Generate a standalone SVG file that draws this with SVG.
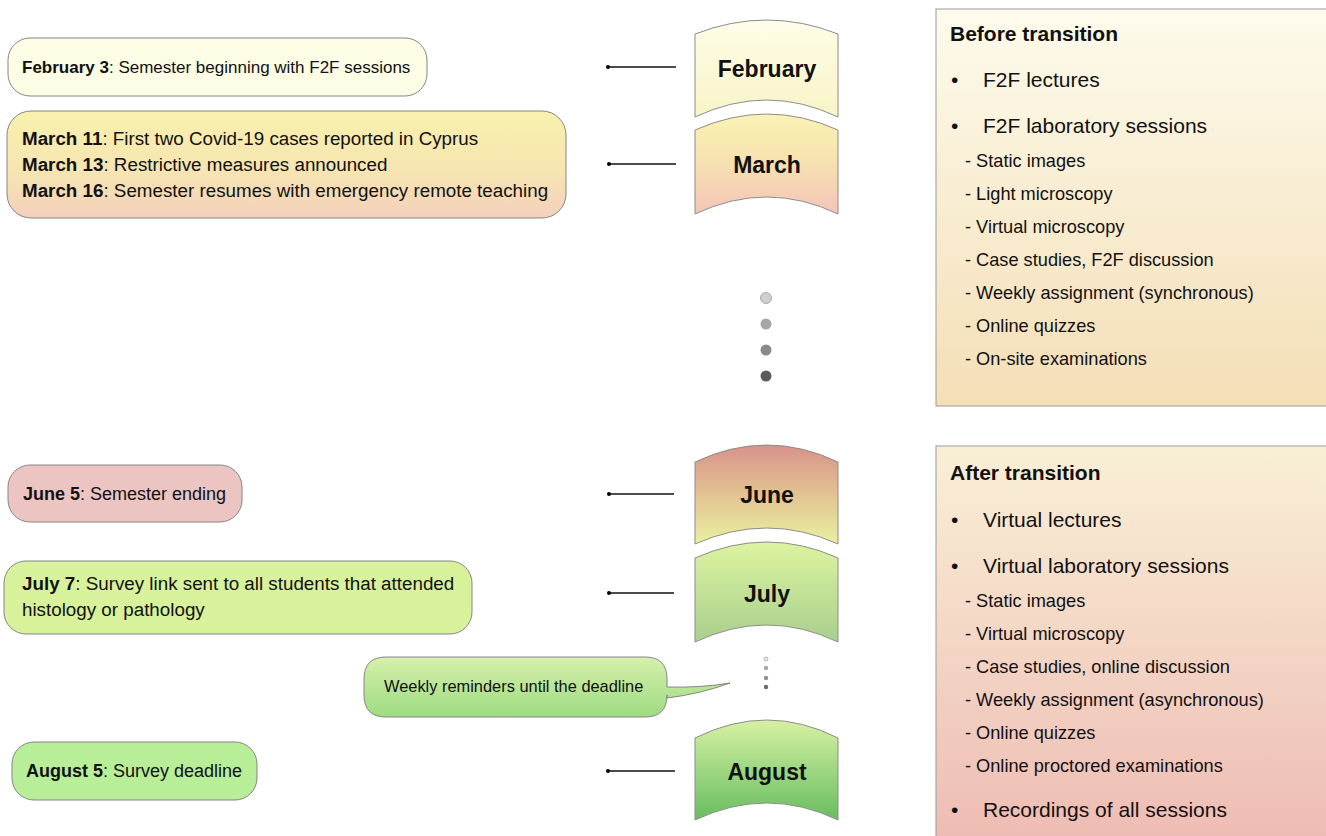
<svg xmlns="http://www.w3.org/2000/svg" width="1326" height="836" viewBox="0 0 1326 836">
<defs>
<linearGradient id="gFeb" x1="0" y1="0" x2="0" y2="1"><stop offset="0" stop-color="#fefde8"/><stop offset="1" stop-color="#f8f4c6"/></linearGradient>
<linearGradient id="gMar" x1="0" y1="0" x2="0" y2="1"><stop offset="0" stop-color="#faf2b4"/><stop offset="0.45" stop-color="#f7e3b0"/><stop offset="1" stop-color="#f3c4b8"/></linearGradient>
<linearGradient id="gJun" x1="0" y1="0" x2="0" y2="1"><stop offset="0" stop-color="#d8928a"/><stop offset="0.5" stop-color="#e2c392"/><stop offset="1" stop-color="#e9f0a0"/></linearGradient>
<linearGradient id="gJul" x1="0" y1="0" x2="0" y2="1"><stop offset="0" stop-color="#ddf4a0"/><stop offset="1" stop-color="#a8cf8e"/></linearGradient>
<linearGradient id="gAug" x1="0" y1="0" x2="0" y2="1"><stop offset="0" stop-color="#d6f1a2"/><stop offset="1" stop-color="#68bd60"/></linearGradient>
<linearGradient id="gMarBox" x1="0" y1="0" x2="0" y2="1"><stop offset="0" stop-color="#f8f1ac"/><stop offset="0.6" stop-color="#f6e3b2"/><stop offset="1" stop-color="#f3d0bc"/></linearGradient>
<linearGradient id="gCall" x1="0" y1="0" x2="0" y2="1"><stop offset="0" stop-color="#d6f0ac"/><stop offset="1" stop-color="#9edb80"/></linearGradient>
<linearGradient id="gBefore" x1="0" y1="0" x2="0" y2="1"><stop offset="0" stop-color="#fdfbec"/><stop offset="1" stop-color="#f4deb6"/></linearGradient>
<linearGradient id="gAfter" x1="0" y1="0" x2="0" y2="1"><stop offset="0" stop-color="#f9f0d6"/><stop offset="1" stop-color="#eebbb3"/></linearGradient>
<marker id="dot" viewBox="0 0 6 6" refX="3" refY="3" markerWidth="4" markerHeight="4" markerUnits="userSpaceOnUse"><circle cx="3" cy="3" r="3" fill="#000"/></marker>
</defs>
<style>
text{font-family:"Liberation Sans",Arial,sans-serif;fill:#111}
.ev{font-size:18px}
.ev2{font-size:18.8px}
.b{font-weight:bold}
.mon{font-size:23px;font-weight:bold;text-anchor:middle}
.box{stroke:#858585;stroke-width:1}
.shape{stroke:#8c8c8c;stroke-width:1}
.conn{stroke:#111;stroke-width:1.3;fill:none;marker-start:url(#dot)}
.ttl{font-size:21px;font-weight:bold}
.bul{font-size:21px}
.sub{font-size:18.2px}
</style>
<rect width="1326" height="836" fill="#fff"/>

<g id="connectors">
<line class="conn" x1="608" y1="67" x2="676" y2="67"/>
<line class="conn" x1="609" y1="164" x2="676" y2="164"/>
<line class="conn" x1="609" y1="494" x2="674" y2="494"/>
<line class="conn" x1="609" y1="593" x2="674" y2="593"/>
<line class="conn" x1="608" y1="771" x2="675" y2="771"/>
</g>

<g id="month-february">
<path class="shape" fill="url(#gFeb)" d="M695,34 Q767,6 838,34 L838,117 Q767,83 695,117 Z"/>
<text class="mon" x="767" y="77">February</text>
</g>
<g id="month-march">
<path class="shape" fill="url(#gMar)" d="M695,130 Q767,98 838,130 L838,214 Q767,180 695,214 Z"/>
<text class="mon" x="767" y="173">March</text>
</g>
<g id="month-june">
<path class="shape" fill="url(#gJun)" d="M695,462 Q767,428 838,462 L838,544 Q767,512 695,544 Z"/>
<text class="mon" x="767" y="503">June</text>
</g>
<g id="month-july">
<path class="shape" fill="url(#gJul)" d="M695,558 Q767,526 838,558 L838,642 Q767,608 695,642 Z"/>
<text class="mon" x="767" y="602">July</text>
</g>
<g id="month-august">
<path class="shape" fill="url(#gAug)" d="M695,738 Q767,702 838,738 L838,820 Q767,786 695,820 Z"/>
<text class="mon" x="767" y="780">August</text>
</g>

<g id="ellipsis-big">
<circle cx="766" cy="298" r="5.5" fill="#d0d0d0" stroke="#aaa" stroke-width="1"/>
<circle cx="766" cy="324" r="5.5" fill="#a6a6a6"/>
<circle cx="766" cy="350" r="5.5" fill="#8a8a8a"/>
<circle cx="766" cy="376" r="5.5" fill="#5a5a5a"/>
</g>
<g id="ellipsis-small">
<circle cx="766" cy="659" r="2" fill="#e8e8e8" stroke="#aaa" stroke-width="0.8"/>
<circle cx="766" cy="668" r="2.2" fill="#a8a8a8"/>
<circle cx="766" cy="678" r="2.2" fill="#909090"/>
<circle cx="766" cy="687" r="2.2" fill="#6a6a6a"/>
</g>

<g id="event-feb3">
<rect class="box" x="8" y="38" width="419" height="58" rx="22" fill="#fdfde6"/>
<text x="22" y="73" style="font-size:17px"><tspan class="b">February 3</tspan>: Semester beginning with F2F sessions</text>
</g>
<g id="event-march">
<rect class="box" x="7" y="111" width="559" height="107" rx="24" fill="url(#gMarBox)"/>
<text class="ev2" x="22" y="145"><tspan class="b">March 11</tspan>: First two Covid-19 cases reported in Cyprus</text>
<text class="ev2" x="22" y="171"><tspan class="b">March 13</tspan>: Restrictive measures announced</text>
<text class="ev2" x="22" y="197"><tspan class="b">March 16</tspan>: Semester resumes with emergency remote teaching</text>
</g>
<g id="event-june5">
<rect class="box" x="8" y="465" width="234" height="57" rx="22" fill="#ecc5c3"/>
<text class="ev" x="23" y="500"><tspan class="b">June 5</tspan>: Semester ending</text>
</g>
<g id="event-july7">
<rect class="box" x="4" y="561" width="468" height="73" rx="22" fill="#d8f19b"/>
<text class="ev2" x="22" y="590"><tspan class="b">July 7</tspan>: Survey link sent to all students that attended</text>
<text class="ev2" x="22" y="616">histology or pathology</text>
</g>
<g id="callout-reminders">
<path class="box" fill="url(#gCall)" d="M386,657 H645 Q667,657 667,679 L667,687 Q700,688 730,683 Q700,694 667,698 L667,695 Q667,717 645,717 H386 Q364,717 364,695 V679 Q364,657 386,657 Z"/>
<text x="384" y="692" style="font-size:16.4px">Weekly reminders until the deadline</text>
</g>
<g id="event-aug5">
<rect class="box" x="12" y="742" width="245" height="58" rx="22" fill="#b8ee98"/>
<text class="ev" x="26" y="777"><tspan class="b">August 5</tspan>: Survey deadline</text>
</g>

<g id="panel-before">
<rect x="936" y="9" width="400" height="397" fill="url(#gBefore)" stroke="#999" stroke-width="1"/>
<text class="ttl" x="950" y="41">Before transition</text>
<text class="bul" x="951" y="87">•</text><text class="bul" x="983" y="87">F2F lectures</text>
<text class="bul" x="951" y="133">•</text><text class="bul" x="983" y="133">F2F laboratory sessions</text>
<text class="sub" x="965" y="167">- Static images</text>
<text class="sub" x="965" y="200">- Light microscopy</text>
<text class="sub" x="965" y="233">- Virtual microscopy</text>
<text class="sub" x="965" y="266">- Case studies, F2F discussion</text>
<text class="sub" x="965" y="299">- Weekly assignment (synchronous)</text>
<text class="sub" x="965" y="332">- Online quizzes</text>
<text class="sub" x="965" y="365">- On-site examinations</text>
</g>
<g id="panel-after">
<rect x="936" y="446" width="400" height="400" fill="url(#gAfter)" stroke="#999" stroke-width="1"/>
<text class="ttl" x="950" y="480">After transition</text>
<text class="bul" x="951" y="527">•</text><text class="bul" x="983" y="527">Virtual lectures</text>
<text class="bul" x="951" y="573">•</text><text class="bul" x="983" y="573">Virtual laboratory sessions</text>
<text class="sub" x="965" y="607">- Static images</text>
<text class="sub" x="965" y="640">- Virtual microscopy</text>
<text class="sub" x="965" y="673">- Case studies, online discussion</text>
<text class="sub" x="965" y="706">- Weekly assignment (asynchronous)</text>
<text class="sub" x="965" y="739">- Online quizzes</text>
<text class="sub" x="965" y="772">- Online proctored examinations</text>
<text class="bul" x="951" y="817">•</text><text class="bul" x="983" y="817">Recordings of all sessions</text>
</g>
</svg>
